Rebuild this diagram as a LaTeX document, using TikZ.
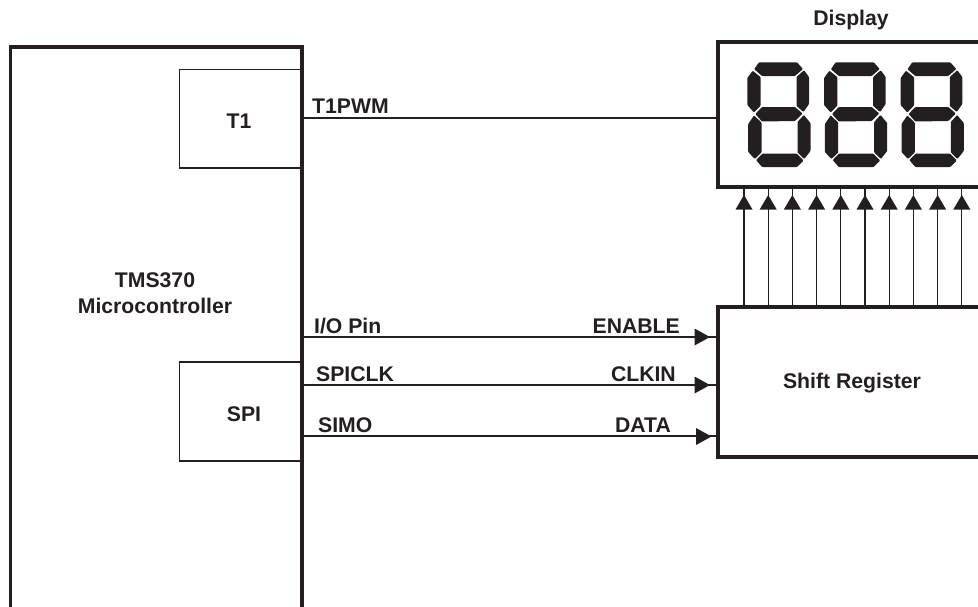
\documentclass[tikz,border=0pt]{standalone}
\usepackage{fontspec}
\setmainfont{Liberation Sans}
\definecolor{inkblack}{HTML}{231F20}
\tikzset{
  heavy/.style={draw=inkblack,line width=3.7pt},
  thin box/.style={draw=inkblack,line width=1.1pt},
  wire/.style={draw=inkblack,line width=1.1pt},
  label/.style={font=\bfseries\fontsize{21.2}{21.2}\selectfont,text=inkblack,inner sep=0pt,anchor=base west},
  labelr/.style={label,anchor=base east},
  labelc/.style={label,anchor=base},
  seg/.style={fill=inkblack,rounded corners=0.8pt},
  pics/eight/.style={code={
    \fill[seg] (7.2,7.2) -- (12,0.3) -- (50,0.3) -- (56,7) -- (48,14) -- (15,14) -- cycle;
    \fill[seg] (5.7,8.7) -- (13.7,15.2) -- (13.7,43.5) -- (7,50.5) -- (0.3,43) -- (0.3,16) -- cycle;
    \fill[seg] (57,8.2) -- (62,15) -- (62,42) -- (56.5,50) -- (49.5,44) -- (49.5,15) -- cycle;
    \fill[seg] (8.3,52) -- (15,45) -- (48,45) -- (55.5,51.5) -- (48,59) -- (15,59.5) -- cycle;
    \fill[seg] (7,53.5) -- (14.5,60.5) -- (14.5,90.5) -- (7.7,97) -- (1.2,90) -- (1.2,62) -- cycle;
    \fill[seg] (56.8,53) -- (63.5,61) -- (63.5,89) -- (57.2,97) -- (50.5,90.5) -- (50.5,60) -- cycle;
    \fill[seg] (9,98) -- (15.5,91.5) -- (49.5,91.5) -- (56.5,98.5) -- (50,105) -- (15,105) -- cycle;
  }},
}
\begin{document}
\begin{tikzpicture}[x=1pt,y=-1pt]
  \useasboundingbox (0,0) rectangle (978,606);
  % Boitiers
  \begin{scope}
    \clip (0,0) rectangle (978,606);
    \draw[heavy] (10.5,612) -- (10.5,47) -- (302,47) -- (302,612);
    \draw[heavy] (985,42) -- (718,42) -- (718,187) -- (985,187);
    \draw[heavy] (985,307) -- (718,307) -- (718,457) -- (985,457);
  \end{scope}
  \coordinate (mcuT) at (302,118);
  \coordinate (mcuIO) at (302,337);
  \coordinate (mcuCLK) at (302,385);
  \coordinate (mcuDATA) at (302,436);
  \coordinate (dispIn) at (718,118);
  \coordinate (srIO) at (718,337);
  \coordinate (srCLK) at (718,385);
  \coordinate (srDATA) at (718,436);
  % T1 et SPI
  \draw[thin box] (302,69.5) -- (179.5,69.5) -- (179.5,168) -- (302,168);
  \draw[thin box] (302,362) -- (179.5,362) -- (179.5,461) -- (302,461);
  \node[labelc] (t1) at (239,128) {T1};
  \node[labelc] (spi) at (244,421) {SPI};
  \node[labelc] (mcu1) at (155,287) {TMS370};
  \node[labelc] (mcu2) at (155,313) {Microcontroller};
  \node[labelc] (disp) at (851,25) {Display};
  \node[labelc] (shift) at (852,388) {Shift Register};
  % Afficheur
  \foreach \x in {747,823.7,900.3}
    \pic at (\x,62) {eight};
  % Liaisons
  \draw[wire] (mcuT) -- (dispIn);
  \draw[wire] (mcuIO) -- (srIO);
  \draw[wire] (mcuCLK) -- (srCLK);
  \draw[wire] (mcuDATA) -- (srDATA);
  \foreach \y/\xa in {337/694.5,385/694.5,436.5/696}
    \fill[inkblack] (\xa,\y-8.5) -- (\xa+15.5,\y) -- (\xa,\y+8.5) -- cycle;
  \foreach \i in {0,...,9} {
    \coordinate (srOut\i) at (744+24.2*\i,307);
    \coordinate (dispPin\i) at (744+24.2*\i,187);
    \draw[wire] (srOut\i) -- (dispPin\i);
    \fill[inkblack] (744+24.2*\i-8.5,209.5) -- (744+24.2*\i,195) -- (744+24.2*\i+8.5,209.5) -- cycle;
  }
  \node[label] (t1pwm) at (312,113) {T1PWM};
  \node[label] (iopin) at (314,333) {I/O Pin};
  \node[label] (spiclk) at (316,381) {SPICLK};
  \node[label] (simo) at (318,432) {SIMO};
  \node[labelr] (enable) at (680,333) {ENABLE};
  \node[labelr] (clkin) at (676,381) {CLKIN};
  \node[labelr] (data) at (671,432) {DATA};
\end{tikzpicture}
\end{document}
